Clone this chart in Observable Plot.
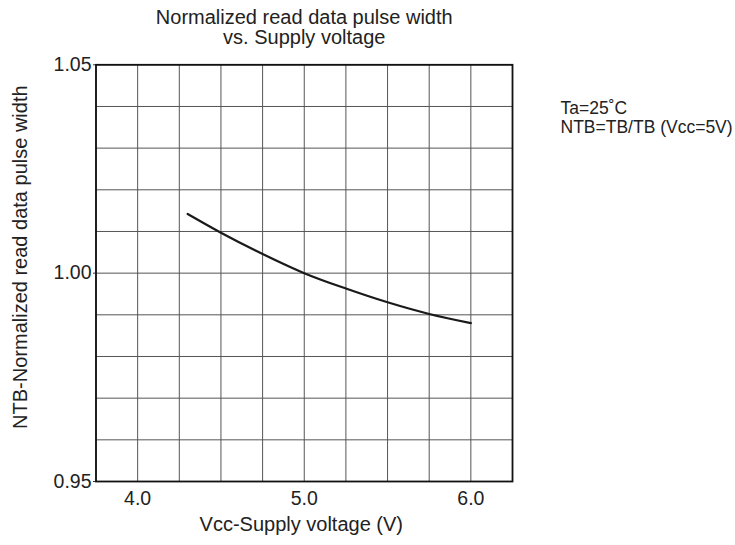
<!DOCTYPE html>
<html>
<head>
<meta charset="utf-8">
<script src="https://cdn.jsdelivr.net/npm/d3@7"></script>
<script src="https://cdn.jsdelivr.net/npm/@observablehq/plot@0.6"></script>
<style>
  html, body { margin: 0; padding: 0; background: #fff; }
  #chart svg { display: block; }
</style>
</head>
<body>
<div id="chart"></div>
<script>
// Supply voltage (V) and normalized pulse width
const vcc = [4.3, 4.5, 4.75, 5.0, 5.25, 5.5, 5.75, 6.0];
const ntb = [1.0142, 1.0097, 1.0046, 1.0, 0.9963, 0.9930, 0.9902, 0.9880];

const xTicks = [4.0, 5.0, 6.0];
const yTicks = [0.95, 1.00, 1.05];
const xGrid = [3.75, 4.0, 4.25, 4.5, 4.75, 5.0, 5.25, 5.5, 5.75, 6.0, 6.25];
const yGrid = [0.95, 0.96, 0.97, 0.98, 0.99, 1.00, 1.01, 1.02, 1.03, 1.04, 1.05];

const titleLines = ["Normalized read data pulse width", "vs. Supply voltage"];
const noteLines = ["Ta=25\u02DAC", "NTB=TB/TB (Vcc=5V)"];
const xLabel = "Vcc-Supply voltage (V)";
const yLabel = "NTB-Normalized read data pulse width";

const data = vcc.map((v, i) => ({x: v, y: ntb[i]}));
const ink = "#222";

const chart = Plot.plot({
  width: 735,
  height: 545,
  marginLeft: 95.5,
  marginRight: 223,
  marginTop: 64.3,
  marginBottom: 64,
  style: {fontFamily: "'Liberation Sans', Arial, sans-serif", fontSize: "19.5px", color: ink, background: "#fff"},
  x: {domain: [3.75, 6.25]},
  y: {domain: [0.95, 1.05]},
  marks: [
    Plot.gridX(xGrid, {stroke: "#555", strokeOpacity: 1, strokeWidth: 1}),
    Plot.gridY(yGrid, {stroke: "#555", strokeOpacity: 1, strokeWidth: 1}),
    Plot.axisX(xTicks, {tickSize: 0, tickPadding: 10, tickFormat: d3.format(".1f"), label: null, fontSize: 19.5, fill: ink}),
    Plot.axisY(yTicks, {tickSize: 2.5, tickPadding: 2, tickFormat: d3.format(".2f"), label: null, fontSize: 19.5, fill: ink, stroke: "#333"}),
    Plot.frame({stroke: "#111", strokeWidth: 1.8}),
    Plot.line(data, {x: "x", y: "y", curve: "monotone-x", stroke: "#1a1a1a", strokeWidth: 2.2}),
    Plot.text([titleLines[0]], {frameAnchor: "top", lineAnchor: "bottom", dy: -41, fontSize: 20, fill: ink}),
    Plot.text([titleLines[1]], {frameAnchor: "top", lineAnchor: "bottom", dy: -21, fontSize: 20, fill: ink}),
    Plot.text([noteLines[0]], {frameAnchor: "top-right", textAnchor: "start", lineAnchor: "bottom", dx: 48, dy: 49, fontSize: 17.5, fill: ink}),
    Plot.text([noteLines[1]], {frameAnchor: "top-right", textAnchor: "start", lineAnchor: "bottom", dx: 48, dy: 68, fontSize: 17.5, fill: ink}),
    Plot.text([xLabel], {frameAnchor: "bottom", lineAnchor: "bottom", dx: -3, dy: 49, fontSize: 20, fill: ink}),
    Plot.text([yLabel], {frameAnchor: "left", textAnchor: "middle", lineAnchor: "bottom", rotate: -90, dx: -68.8, dy: -16, fontSize: 20, fill: ink})
  ]
});
document.getElementById("chart").appendChild(chart);
</script>
</body>
</html>
